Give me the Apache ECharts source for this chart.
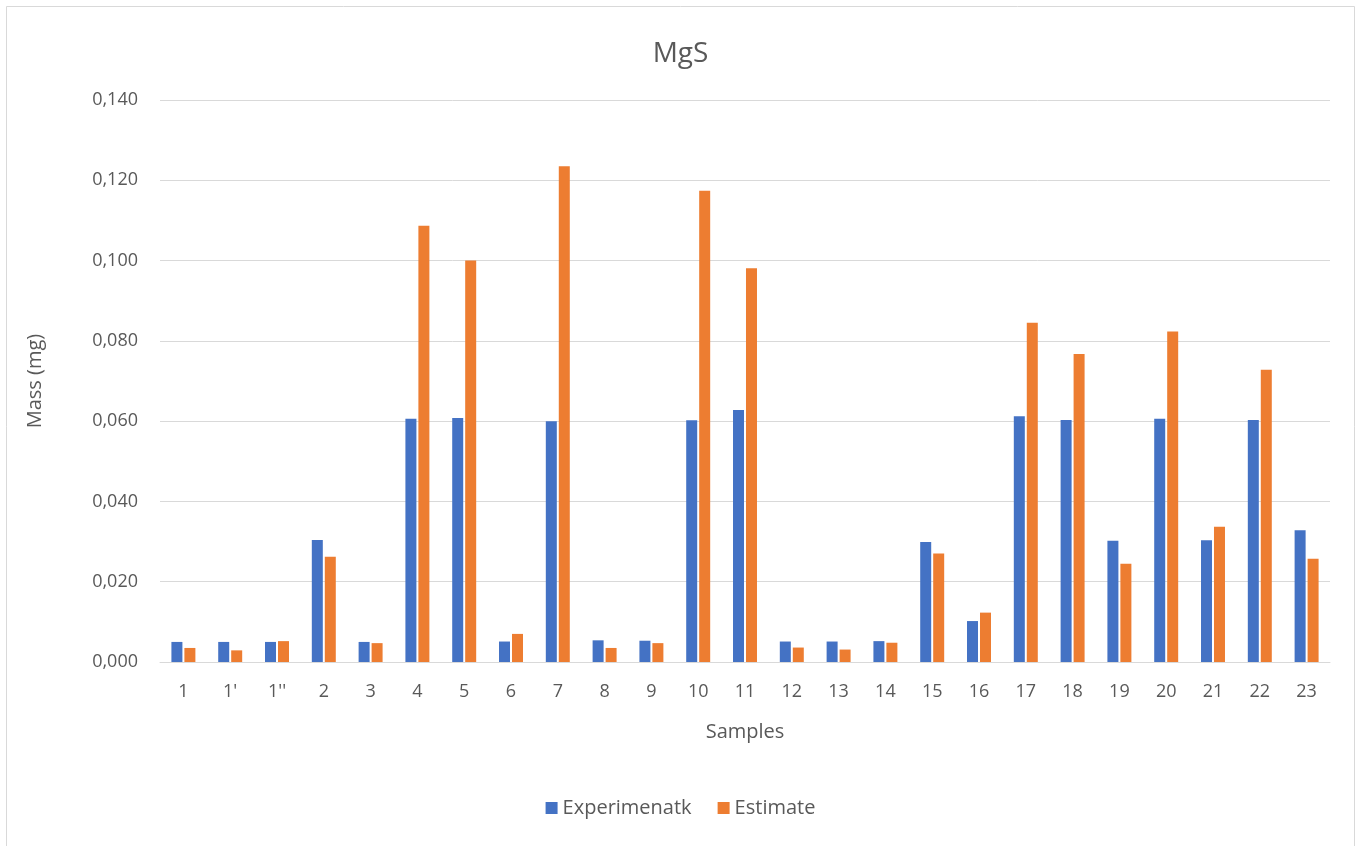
<!DOCTYPE html>
<html>
<head>
<meta charset="utf-8">
<script src="https://cdn.jsdelivr.net/npm/echarts@6/dist/echarts.min.js"></script>
<style>
html,body{margin:0;padding:0;background:#fff;}
#chart{width:1361px;height:846px;}
</style>
</head>
<body>
<div id="chart"></div>
<script>
const categories = ["1","1'","1''","2","3","4","5","6","7","8","9","10","11","12","13","14","15","16","17","18","19","20","21","22","23"];
const experimental = [0.0050,0.0050,0.0050,0.0304,0.0050,0.0606,0.0608,0.0051,0.0600,0.0054,0.0053,0.0602,0.0628,0.0051,0.0051,0.0052,0.0299,0.0102,0.0612,0.0603,0.0302,0.0606,0.0303,0.0603,0.0328];
const estimate = [0.0035,0.0029,0.0052,0.0262,0.0047,0.1087,0.1000,0.0070,0.1235,0.0035,0.0047,0.1174,0.0981,0.0036,0.0031,0.0048,0.0270,0.0123,0.0845,0.0767,0.0245,0.0823,0.0337,0.0728,0.0257];
const seriesNames = ["Experimenatk","Estimate"];

const FONT = "'Open Sans', 'Noto Sans', sans-serif";
const TXT = '#595959';
const chart = echarts.init(document.getElementById('chart'), null, {renderer:'canvas'});
chart.setOption({
  animation:false,
  backgroundColor:'#fff',
  title:{text:'MgS', left:'center', top:35, textStyle:{fontFamily:FONT, fontSize:28, fontWeight:'normal', color:TXT}},
  graphic:[{type:'rect', shape:{x:6.5,y:6.5,width:1348,height:860}, style:{fill:'none', stroke:'#d9d9d9', lineWidth:1}, silent:true}],
  legend:{bottom:23, left:'center', itemWidth:12, itemHeight:12, itemGap:26, icon:'rect',
    textStyle:{fontFamily:FONT, fontSize:20, color:TXT}, data:seriesNames},
  grid:{left:160, right:31, top:100, bottom:184, containLabel:false},
  xAxis:{type:'category', data:categories,
    axisLine:{show:true, lineStyle:{color:'#d9d9d9', width:1}},
    axisTick:{show:false},
    axisLabel:{fontFamily:FONT, fontSize:18, color:TXT, margin:21},
    name:'Samples', nameLocation:'middle', nameGap:60,
    nameTextStyle:{fontFamily:FONT, fontSize:20, color:TXT}},
  yAxis:{type:'value', min:0, max:0.14, interval:0.02,
    axisLine:{show:false}, axisTick:{show:false},
    splitLine:{lineStyle:{color:'#d9d9d9', width:1}},
    axisLabel:{fontFamily:FONT, fontSize:18, color:TXT, margin:22, formatter:v=>v.toFixed(3).replace('.',',')},
    name:'Mass (mg)', nameLocation:'middle', nameGap:115, nameRotate:90,
    nameTextStyle:{fontFamily:FONT, fontSize:20, color:TXT}},
  series:[
    {name:seriesNames[0], type:'bar', data:experimental, barWidth:11, barGap:'18%', itemStyle:{color:'#4472c4'}},
    {name:seriesNames[1], type:'bar', data:estimate, barWidth:11, barGap:'18%', itemStyle:{color:'#ed7d31'}}
  ]
});
</script>
</body>
</html>
